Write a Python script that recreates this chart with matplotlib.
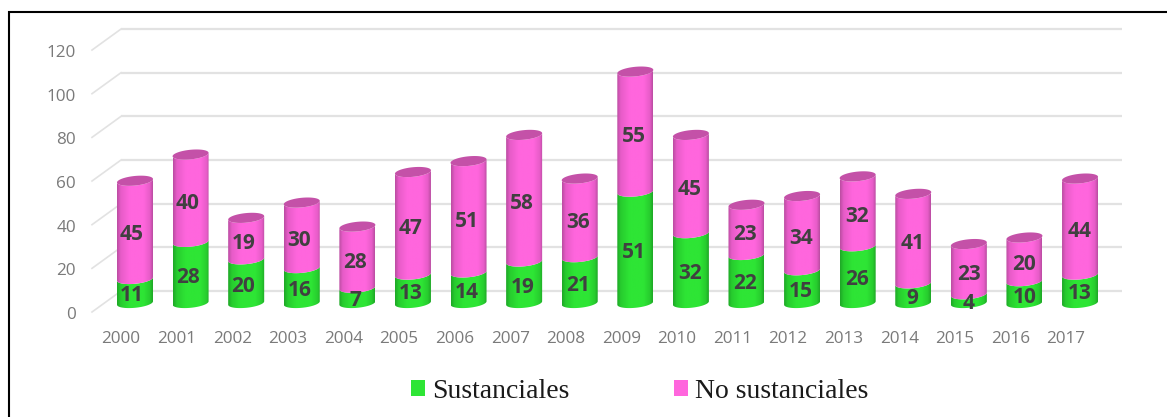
#!/usr/bin/env python3
"""Stacked cylinder chart, sustanciales / no sustanciales per year."""
import numpy as np
import matplotlib
matplotlib.use("Agg")
import matplotlib.pyplot as plt
from matplotlib.colors import LinearSegmentedColormap
from matplotlib.lines import Line2D
from matplotlib.patches import Patch, Polygon

YEARS = [2000, 2001, 2002, 2003, 2004, 2005, 2006, 2007, 2008,
         2009, 2010, 2011, 2012, 2013, 2014, 2015, 2016, 2017]
SUSTANCIALES = [11, 28, 20, 16, 7, 13, 14, 19, 21, 51, 32, 22, 15, 26, 9, 4, 10, 13]
NO_SUSTANCIALES = [45, 40, 19, 30, 28, 47, 51, 58, 36, 55, 45, 23, 34, 32, 41, 23, 20, 44]
Y_TICKS = [0, 20, 40, 60, 80, 100, 120]

GREEN = "#2EE535"
PINK = "#FF66DD"
PINK_TOP = "#C451A8"
GRID = "#E2E2E2"
TEXT_DARK = "#404040"
TEXT_GRAY = "#7A7A7A"

# pixel geometry of the picture
W, H = 1167, 417
X0, DX = 135, 55.59      # centre of first bar, spacing
Y0, DY = 303, 2.183      # bar base, px per unit
RX, RY, TILT = 18, 4.8, 1.7

plt.rcParams["font.family"] = ["Open Sans", "DejaVu Sans"]


def px(v):
    return v / DX


def py(v):
    return v / DY


def lower_arc(i, v):
    t = np.linspace(np.pi, 2 * np.pi, 40)
    return i + px(RX) * np.cos(t), v + py(RY) * np.sin(t) + py(TILT) * np.cos(t)


def ellipse(i, v):
    t = np.linspace(0, 2 * np.pi, 80)
    return i + px(RX) * np.cos(t), v + py(RY) * np.sin(t) + py(TILT) * np.cos(t)


def cylinder(ax, i, low, high, cmap):
    xl, yl = lower_arc(i, low)
    xh, yh = lower_arc(i, high)
    verts = np.r_[np.c_[xl, yl], np.c_[xh, yh][::-1]]
    shape = Polygon(verts, closed=True, fc="none", ec="none")
    ax.add_patch(shape)
    im = ax.imshow(np.linspace(0, 1, 64)[None, :], cmap=cmap, aspect="auto",
                   extent=(i - px(RX), i + px(RX), low - py(10), high + py(10)),
                   zorder=3)
    im.set_clip_path(shape)


green_cmap = LinearSegmentedColormap.from_list(
    "g", [(0, "#1FA827"), (0.1, "#27CC2E"), (0.35, GREEN), (0.75, GREEN),
          (0.92, "#27CC2E"), (1, "#1FA827")])
pink_cmap = LinearSegmentedColormap.from_list(
    "p", [(0, "#BC4DA3"), (0.1, "#E75CC8"), (0.35, PINK), (0.75, PINK),
          (0.92, "#E75CC8"), (1, "#BC4DA3")])

fig = plt.figure(figsize=(W / 100, H / 100), dpi=100, facecolor="white")
ax = fig.add_axes([0, 0, 1, 1])

# back wall grid and side wall diagonals
back_shift = py(Y0 - 291)
front_shift = py(Y0 - 312)
x_back = -px(X0 - 121)
x_front = -px(X0 - 92)
x_end = px(1122 - X0)
for tick in Y_TICKS:
    ax.plot([x_back, x_end], [tick + back_shift] * 2, color=GRID, lw=1.6, zorder=1,
            solid_capstyle="butt")
    ax.plot([x_front, x_back], [tick + front_shift, tick + back_shift], color=GRID,
            lw=1.2, zorder=1)
    ax.text(-px(X0 - 76), tick + front_shift - py(3), str(tick), ha="right", va="center",
            fontsize=12.3, color=TEXT_GRAY)

for i, (year, g, p) in enumerate(zip(YEARS, SUSTANCIALES, NO_SUSTANCIALES)):
    cylinder(ax, i, 0, g, green_cmap)
    cylinder(ax, i, g, g + p, pink_cmap)
    ax.fill(*ellipse(i, g + p), color=PINK_TOP, lw=0, zorder=4)

    nudge = px(-3 + 3 * i / 17)
    ax.text(i + nudge, g / 2 - py(5), str(g), ha="center", va="center", fontsize=15,
            fontweight="bold", color=TEXT_DARK, zorder=5)
    ax.text(i + nudge, g + p / 2 - py(5), str(p), ha="center", va="center", fontsize=15,
            fontweight="bold", color=TEXT_DARK, zorder=5)
    ax.text(i - px(14), py(Y0 - 339), str(year), ha="center", va="center",
            fontsize=12.3, color=TEXT_GRAY)

ax.set_xlim(-px(X0), px(W - X0))
ax.set_ylim(-py(H - Y0), py(Y0))
ax.axis("off")

handles = [Patch(fc=GREEN, ec="none"), Patch(fc=PINK, ec="none")]
leg = fig.legend(handles, ["Sustanciales", "No sustanciales"], ncols=2,
                 loc="center", bbox_to_anchor=(640 / W, 1 - 391 / H), frameon=False,
                 borderpad=0, handlelength=0.5, handleheight=0.5, handletextpad=0.27,
                 columnspacing=3.75, prop={"family": "Liberation Serif", "size": 20})
for text in leg.get_texts():
    text.set_color("#1A1A1A")

# frame of the pasted picture, top and left only
fig.add_artist(Line2D([9 / W, 9 / W, 1], [0, 1 - 12 / H, 1 - 12 / H], color="black",
                      lw=1.5, solid_joinstyle="miter"))

fig.savefig("out.png", dpi=100)
